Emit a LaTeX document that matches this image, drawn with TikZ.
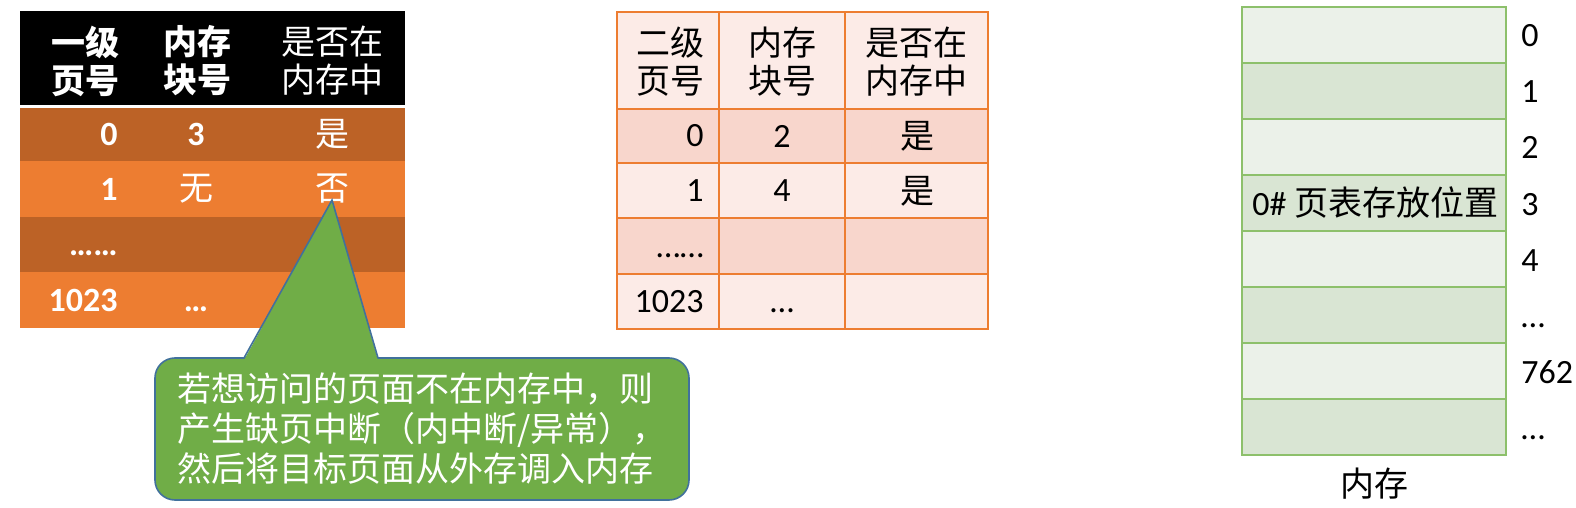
\documentclass[tikz,border=0pt]{standalone}
\usepackage{fontspec}
\setmainfont{Carlito}
\newfontfamily\cjk{Noto Sans CJK SC}
\usetikzlibrary{positioning}
\definecolor{RustRow}{HTML}{BC6226}
\definecolor{OrangeRow}{HTML}{ED7D31}
\definecolor{PinkDark}{HTML}{F8D6CC}
\definecolor{PinkLight}{HTML}{FCEBE7}
\definecolor{MemLight}{HTML}{EBF1E9}
\definecolor{MemDark}{HTML}{D9E5D3}
\definecolor{MemLine}{HTML}{8DC06B}
\definecolor{TipGreen}{HTML}{70AD47}
\definecolor{TipBlue}{HTML}{41719C}

\begin{document}
\begin{tikzpicture}[
    x=0.5pt, y=-0.5pt,
    num/.style={inner sep=0pt, font=\fontsize{17}{19}\selectfont},
    cn/.style={inner sep=0pt, font=\fontsize{17}{19}\selectfont\cjk},
    head/.style={cn, align=center},
    grid/.style={draw=OrangeRow, line width=1pt},
    memcell/.style={draw=MemLine, line width=1pt, minimum width=132pt, minimum height=28pt, inner sep=0pt},
    callout/.style={draw=TipBlue, fill=TipGreen, line width=0.8pt, rounded corners=10pt, text=white,
      minimum width=267pt, minimum height=71pt, inner xsep=11pt, text width=245pt, align=left,
      font=\fontsize{17}{20}\selectfont\cjk}
  ]
    \useasboundingbox (0,0) rectangle (1576,508);

    % first-level page table
    \fill[black] (20,11) rectangle (405,105);
    \foreach \ya/\yb/\c in {108/161/RustRow, 161/217/OrangeRow, 217/272/RustRow, 272/328/OrangeRow}
      \fill[\c] (20,\ya) rectangle (405,\yb);
    \node[head, text=white, font=\fontsize{17}{19}\selectfont\cjk\bfseries] (pa1) at (85,61) {一级\\页号};
    \node[head, text=white, font=\fontsize{17}{19}\selectfont\cjk\bfseries] (pa2) at (197,61) {内存\\块号};
    \node[head, text=white] (pa3) at (332,61) {是否在\\内存中};
    \node[num, text=white, font=\fontsize{17}{19}\selectfont\bfseries, anchor=east] (pa01) at (118,134) {0};
    \node[num, text=white, font=\fontsize{17}{19}\selectfont\bfseries] (pa02) at (196,134) {3};
    \node[cn, text=white] (pa03) at (332,134) {是};
    \node[num, text=white, font=\fontsize{17}{19}\selectfont\bfseries, anchor=east] (pa11) at (118,189) {1};
    \node[cn, text=white] (pa12) at (196,189) {无};
    \node[cn, text=white] (fou) at (332,189) {否};
    \node[num, text=white, font=\fontsize{17}{19}\selectfont\bfseries, anchor=base east] (pa21) at (118,256) {……};
    \node[num, text=white, font=\fontsize{17}{19}\selectfont\bfseries, anchor=east] (pa31) at (118,300) {1023};
    \node[num, text=white, font=\fontsize{17}{19}\selectfont\bfseries, anchor=base] (pa32) at (196,311) {…};

    % second-level page table
    \fill[PinkLight] (617,12) rectangle (988,109);
    \foreach \ya/\yb/\c in {109/163/PinkDark, 163/218/PinkLight, 218/274/PinkDark, 274/329/PinkLight}
      \fill[\c] (617,\ya) rectangle (988,\yb);
    \draw[grid] (617,12) rectangle (988,329);
    \foreach \yy in {109,163,218,274}
      \draw[grid] (617,\yy) -- (988,\yy);
    \foreach \xx in {719,845}
      \draw[grid] (\xx,12) -- (\xx,329);
    \node[head] (pb1) at (670,62) {二级\\页号};
    \node[head] (pb2) at (782,62) {内存\\块号};
    \node[head] (pb3) at (916,62) {是否在\\内存中};
    \node[num, anchor=east] (pb01) at (704,136) {0};
    \node[num] (pb02) at (782,136) {2};
    \node[cn] (pb03) at (917,136) {是};
    \node[num, anchor=east] (pb11) at (704,191) {1};
    \node[num] (pb12) at (782,191) {4};
    \node[cn] (pb13) at (917,191) {是};
    \node[num, anchor=base east] (pb21) at (704,257) {……};
    \node[num, anchor=east] (pb31) at (704,302) {1023};
    \node[num, anchor=base] (pb32) at (782,313) {…};

    % memory
    \foreach \i/\lab/\c in {0/0/MemLight, 1/1/MemDark, 2/2/MemLight, 3/3/MemDark,
                            4/4/MemLight, 5/…/MemDark, 6/762/MemLight, 7/…/MemDark} {
      \node[memcell, fill=\c] (cell\i) at (1374, 35+56*\i) {};
      \node[num, anchor=base west] (addr\i) at ([xshift=7pt, yshift=-6pt]cell\i.east) {\lab};
    }
    \node[num, anchor=west] (pt0) at ([xshift=5.5pt]cell3.west) {0\# {\cjk 页表存放位置}};
    \node[cn] (mem) at ([yshift=-14pt]cell7.south) {内存};

    % callout
    \node[callout] (note) at (422,429) {若想访问的页面不在内存中，则\\产生缺页中断（内中断/异常），\\然后将目标页面从外存调入内存};
    \coordinate (tip) at ([yshift=2pt]fou.south);
    \coordinate (bl) at (244,358);
    \coordinate (br) at (378,358);
    \fill[TipGreen] ([yshift=-1pt]bl) -- (tip) -- ([yshift=-1pt]br) -- cycle;
    \draw[TipBlue, line width=0.8pt] (bl) -- (tip) -- (br);
\end{tikzpicture}
\end{document}
